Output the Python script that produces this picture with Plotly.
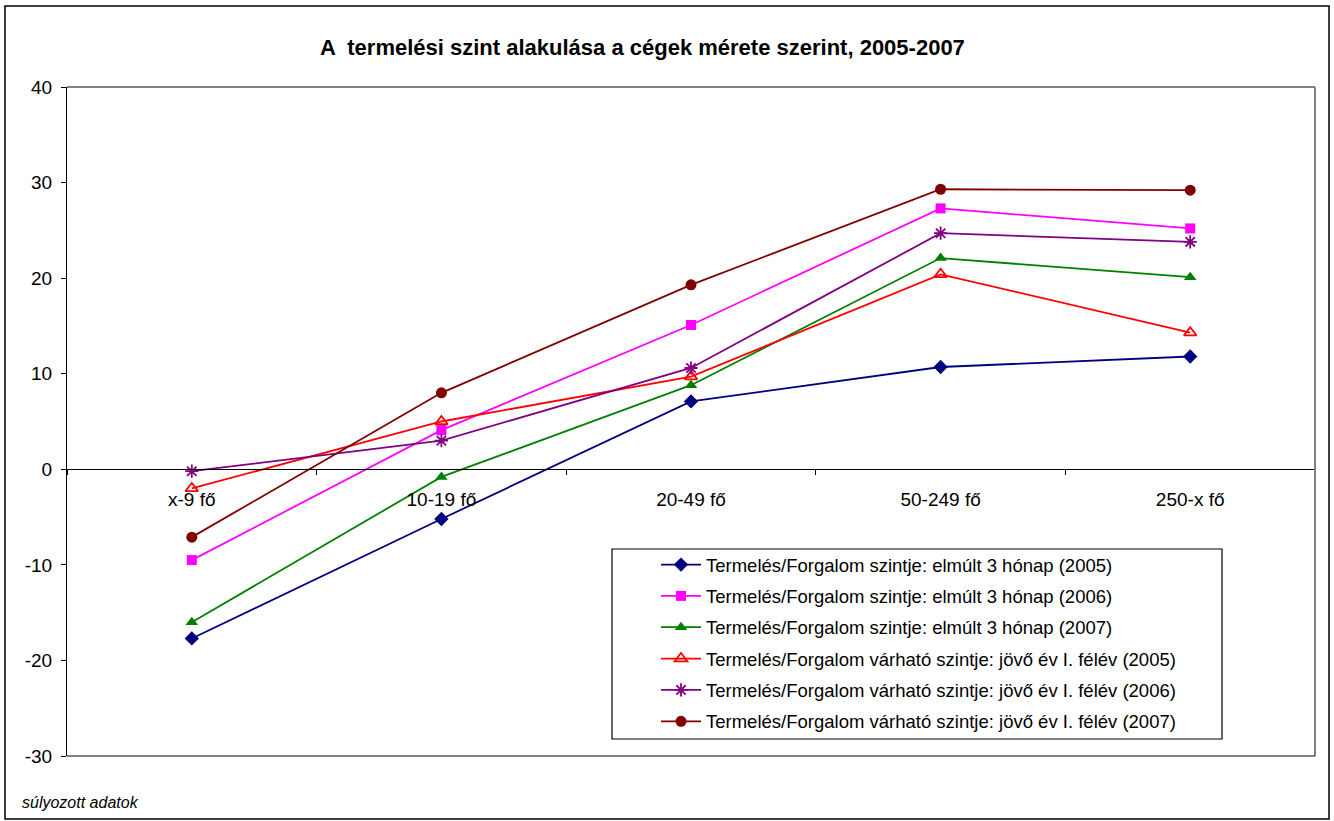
import plotly.graph_objects as go

categories = ["x-9 fő", "10-19 fő", "20-49 fő", "50-249 fő", "250-x fő"]

s1_name = "Termelés/Forgalom szintje: elmúlt 3 hónap (2005)"
s2_name = "Termelés/Forgalom szintje: elmúlt 3 hónap (2006)"
s3_name = "Termelés/Forgalom szintje: elmúlt 3 hónap (2007)"
s4_name = "Termelés/Forgalom várható szintje: jövő év I. félév (2005)"
s5_name = "Termelés/Forgalom várható szintje: jövő év I. félév (2006)"
s6_name = "Termelés/Forgalom várható szintje: jövő év I. félév (2007)"

s1_values = [-17.7, -5.2, 7.1, 10.7, 11.8]
s2_values = [-9.5, 4.1, 15.1, 27.3, 25.2]
s3_values = [-16.0, -0.8, 8.8, 22.1, 20.1]
s4_values = [-2.0, 5.0, 9.7, 20.4, 14.3]
s5_values = [-0.2, 3.0, 10.6, 24.7, 23.8]
s6_values = [-7.1, 8.0, 19.3, 29.3, 29.2]

y_ticks = [-30, -20, -10, 0, 10, 20, 30, 40]

FONT = "Liberation Sans, Arial, sans-serif"

series = [
    (s1_name, s1_values, "#000080", "diamond", 11),
    (s2_name, s2_values, "#FF00FF", "square", 10),
    (s3_name, s3_values, "#008000", "triangle-up", 11),
    (s4_name, s4_values, "#FF0000", "triangle-up-open", 11),
    (s5_name, s5_values, "#800080", "asterisk-open", 11),
    (s6_name, s6_values, "#800000", "circle", 11),
]

fig = go.Figure()
for i, (name, vals, color, sym, size) in enumerate(series):
    marker = dict(symbol=sym, size=size, color=color)
    if sym.endswith("open"):
        marker["line"] = dict(color=color, width=1.8)
    fig.add_trace(go.Scatter(
        x=categories, y=vals, name=name, mode="lines+markers",
        line=dict(color=color, width=1.8), marker=marker,
        legendgroup=f"g{i}",
    ))

W, H = 1334, 821
L, R, T, B = 67, 1315, 87, 756
pw, ph = R - L, B - T

def px(x):
    return (x - L) / pw

def py(y):
    return (B - y) / ph

fig.update_layout(
    width=W, height=H,
    margin=dict(l=L, r=W - R, t=T, b=H - B, autoexpand=False),
    paper_bgcolor="white", plot_bgcolor="white",
    font=dict(family=FONT, size=19, color="black"),
    title=dict(text="<b>A  termelési szint alakulása a cégek mérete szerint, 2005-2007</b>",
               x=px(668), xanchor="center", y=1 - 47 / H, yanchor="middle",
               font=dict(family=FONT, size=22, color="black")),
    showlegend=True,
    legend=dict(x=px(656), y=py(546), xanchor="left", yanchor="top",
                borderwidth=0, bgcolor="rgba(0,0,0,0)",
                font=dict(family=FONT, size=18.5, color="black"),
                tracegroupgap=4.3, itemwidth=40),
    xaxis=dict(type="category", anchor="free", position=30 / 70,
               showline=True, linecolor="black", linewidth=1.2,
               ticks="outside", tickson="boundaries", ticklen=5, tickcolor="black",
               ticklabelstandoff=13,
               showgrid=False, zeroline=False, range=[-0.5, 4.5],
               tickfont=dict(family=FONT, size=19, color="black")),
    yaxis=dict(range=[-30, 40], tickvals=y_ticks, ticktext=[str(v) for v in y_ticks],
               showline=True, linecolor="black",
               linewidth=1.2, ticks="outside", ticklen=5, tickcolor="black",
               ticklabelstandoff=5,
               showgrid=False, zeroline=False,
               tickfont=dict(family=FONT, size=19, color="black")),
)

# plot area border (gray top/right, black bottom)
fig.add_shape(type="line", xref="paper", yref="paper", x0=0, x1=1, y0=1, y1=1,
              line=dict(color="#808080", width=2))
fig.add_shape(type="line", xref="paper", yref="paper", x0=1, x1=1, y0=0, y1=1,
              line=dict(color="#808080", width=2))
fig.add_shape(type="line", xref="paper", yref="paper", x0=0, x1=1, y0=0, y1=0,
              line=dict(color="black", width=1.2))
# legend box
fig.add_shape(type="rect", xref="paper", yref="paper",
              x0=px(612), x1=px(1222), y0=py(739), y1=py(549),
              line=dict(color="black", width=1.2), fillcolor="white", layer="below")
# outer chart border
fig.add_shape(type="rect", xref="paper", yref="paper",
              x0=px(5), x1=px(1329), y0=py(819), y1=py(6),
              line=dict(color="black", width=1.5))

fig.add_annotation(text="<i>súlyozott adatok</i>", xref="paper", yref="paper",
                   x=px(20), y=py(803), xanchor="left", yanchor="middle",
                   showarrow=False, font=dict(family=FONT, size=16, color="black"))

fig.write_html("out.html", config={"displayModeBar": False},
               post_script="document.body.style.margin='0';")
